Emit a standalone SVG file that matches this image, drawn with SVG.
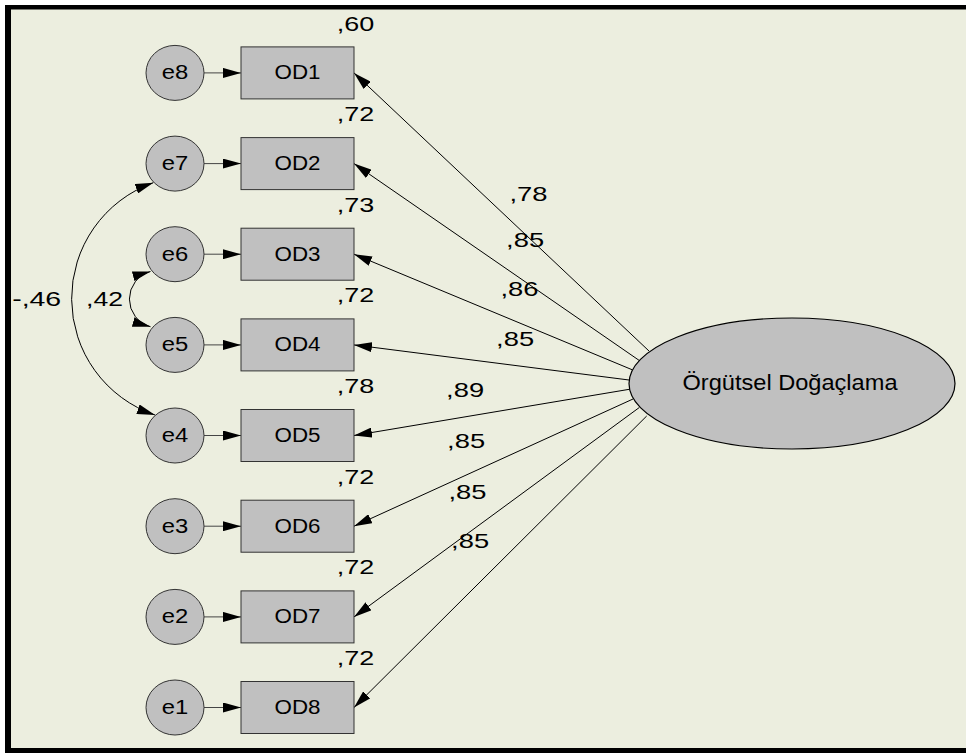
<svg xmlns="http://www.w3.org/2000/svg" width="966" height="754" viewBox="0 0 966 754">
<style>
text{font-family:"Liberation Sans",Arial,sans-serif;fill:#000}
.lbl{font-size:19.5px;text-anchor:middle}
.num{font-size:21px}
.obs{fill:#C0C0C0;stroke:#333;stroke-width:1}
.err{fill:#C0C0C0;stroke:#333;stroke-width:1}
.c{stroke:#000;stroke-width:1;fill:none}
.s{stroke:#444;stroke-width:1;fill:none}
</style>
<defs>
<marker id="ah" viewBox="0 0 18 10" refX="18" refY="5" markerWidth="18" markerHeight="10" markerUnits="userSpaceOnUse" orient="auto-start-reverse"><path d="M0,0 L18,5 L0,10 z" fill="#000"/></marker>
</defs>
<rect x="0" y="0" width="966" height="754" fill="#fff"/>
<rect x="8" y="7" width="958" height="744" fill="#ECEEDF"/>
<rect x="5" y="5" width="6" height="748" fill="#000"/>
<rect x="5" y="5" width="961" height="4.5" fill="#000"/>
<rect x="5" y="748" width="961" height="5" fill="#000"/>

<g id="connectors">
<line class="s" x1="204" y1="72.9" x2="241" y2="72.9" marker-end="url(#ah)"/>
<line class="s" x1="204" y1="163.6" x2="241" y2="163.6" marker-end="url(#ah)"/>
<line class="s" x1="204" y1="254.2" x2="241" y2="254.2" marker-end="url(#ah)"/>
<line class="s" x1="204" y1="344.9" x2="241" y2="344.9" marker-end="url(#ah)"/>
<line class="s" x1="204" y1="435.5" x2="241" y2="435.5" marker-end="url(#ah)"/>
<line class="s" x1="204" y1="526.2" x2="241" y2="526.2" marker-end="url(#ah)"/>
<line class="s" x1="204" y1="616.9" x2="241" y2="616.9" marker-end="url(#ah)"/>
<line class="s" x1="204" y1="707.5" x2="241" y2="707.5" marker-end="url(#ah)"/>
<line class="c" x1="649" y1="351" x2="354" y2="72.9" marker-end="url(#ah)"/>
<line class="c" x1="639.3" y1="360.5" x2="354" y2="163.6" marker-end="url(#ah)"/>
<line class="c" x1="632.3" y1="369.8" x2="354" y2="254.2" marker-end="url(#ah)"/>
<line class="c" x1="629" y1="380" x2="354" y2="344.9" marker-end="url(#ah)"/>
<line class="c" x1="629.3" y1="389.3" x2="354" y2="435.5" marker-end="url(#ah)"/>
<line class="c" x1="633" y1="399" x2="354" y2="526.2" marker-end="url(#ah)"/>
<line class="c" x1="639.3" y1="407.5" x2="354" y2="616.9" marker-end="url(#ah)"/>
<line class="c" x1="646.7" y1="416" x2="354" y2="707.5" marker-end="url(#ah)"/>
<path class="c" d="M153.3,182.7 A123,123 0 0 0 155,415" marker-start="url(#ah)" marker-end="url(#ah)"/>
<path class="c" d="M150.5,271.5 A28.6,28.6 0 0 0 150.5,326.7" marker-start="url(#ah)" marker-end="url(#ah)"/>
</g>

<g id="OD1"><rect class="obs" x="241" y="46.9" width="113" height="52"/><text class="lbl" x="297.5" y="79.3" textLength="46" lengthAdjust="spacingAndGlyphs">OD1</text><text class="num" x="336.8" y="30.5" textLength="37.5" lengthAdjust="spacingAndGlyphs">,60</text></g>
<g id="OD2"><rect class="obs" x="241" y="137.6" width="113" height="52"/><text class="lbl" x="297.5" y="170" textLength="46" lengthAdjust="spacingAndGlyphs">OD2</text><text class="num" x="336.8" y="121.2" textLength="37.5" lengthAdjust="spacingAndGlyphs">,72</text></g>
<g id="OD3"><rect class="obs" x="241" y="228.2" width="113" height="52"/><text class="lbl" x="297.5" y="260.6" textLength="46" lengthAdjust="spacingAndGlyphs">OD3</text><text class="num" x="336.8" y="211.8" textLength="37.5" lengthAdjust="spacingAndGlyphs">,73</text></g>
<g id="OD4"><rect class="obs" x="241" y="318.9" width="113" height="52"/><text class="lbl" x="297.5" y="351.3" textLength="46" lengthAdjust="spacingAndGlyphs">OD4</text><text class="num" x="336.8" y="302.4" textLength="37.5" lengthAdjust="spacingAndGlyphs">,72</text></g>
<g id="OD5"><rect class="obs" x="241" y="409.5" width="113" height="52"/><text class="lbl" x="297.5" y="441.9" textLength="46" lengthAdjust="spacingAndGlyphs">OD5</text><text class="num" x="336.8" y="393" textLength="37.5" lengthAdjust="spacingAndGlyphs">,78</text></g>
<g id="OD6"><rect class="obs" x="241" y="500.2" width="113" height="52"/><text class="lbl" x="297.5" y="532.6" textLength="46" lengthAdjust="spacingAndGlyphs">OD6</text><text class="num" x="336.8" y="483.7" textLength="37.5" lengthAdjust="spacingAndGlyphs">,72</text></g>
<g id="OD7"><rect class="obs" x="241" y="590.9" width="113" height="52"/><text class="lbl" x="297.5" y="623.3" textLength="46" lengthAdjust="spacingAndGlyphs">OD7</text><text class="num" x="336.8" y="574.4" textLength="37.5" lengthAdjust="spacingAndGlyphs">,72</text></g>
<g id="OD8"><rect class="obs" x="241" y="681.5" width="113" height="52"/><text class="lbl" x="297.5" y="713.9" textLength="46" lengthAdjust="spacingAndGlyphs">OD8</text><text class="num" x="336.8" y="665" textLength="37.5" lengthAdjust="spacingAndGlyphs">,72</text></g>

<g id="e8"><ellipse class="err" cx="175" cy="72.9" rx="29" ry="27.5"/><text class="lbl" x="175" y="79.3" textLength="26.5" lengthAdjust="spacingAndGlyphs">e8</text></g>
<g id="e7"><ellipse class="err" cx="175" cy="163.6" rx="29" ry="27.5"/><text class="lbl" x="175" y="170" textLength="26.5" lengthAdjust="spacingAndGlyphs">e7</text></g>
<g id="e6"><ellipse class="err" cx="175" cy="254.2" rx="29" ry="27.5"/><text class="lbl" x="175" y="260.6" textLength="26.5" lengthAdjust="spacingAndGlyphs">e6</text></g>
<g id="e5"><ellipse class="err" cx="175" cy="344.9" rx="29" ry="27.5"/><text class="lbl" x="175" y="351.3" textLength="26.5" lengthAdjust="spacingAndGlyphs">e5</text></g>
<g id="e4"><ellipse class="err" cx="175" cy="435.5" rx="29" ry="27.5"/><text class="lbl" x="175" y="441.9" textLength="26.5" lengthAdjust="spacingAndGlyphs">e4</text></g>
<g id="e3"><ellipse class="err" cx="175" cy="526.2" rx="29" ry="27.5"/><text class="lbl" x="175" y="532.6" textLength="26.5" lengthAdjust="spacingAndGlyphs">e3</text></g>
<g id="e2"><ellipse class="err" cx="175" cy="616.9" rx="29" ry="27.5"/><text class="lbl" x="175" y="623.3" textLength="26.5" lengthAdjust="spacingAndGlyphs">e2</text></g>
<g id="e1"><ellipse class="err" cx="175" cy="707.5" rx="29" ry="27.5"/><text class="lbl" x="175" y="713.9" textLength="26.5" lengthAdjust="spacingAndGlyphs">e1</text></g>

<g id="OrgutselDogaclama"><ellipse cx="792" cy="383.5" rx="163" ry="65.5" fill="#C0C0C0" stroke="#000" stroke-width="1.2"/><text x="790" y="389.5" font-size="21.5" text-anchor="middle" textLength="215" lengthAdjust="spacingAndGlyphs">Örgütsel Doğaçlama</text></g>

<g id="path-labels">
<text class="num" x="509.5" y="200.7" textLength="38" lengthAdjust="spacingAndGlyphs">,78</text>
<text class="num" x="506.1" y="247.3" textLength="38" lengthAdjust="spacingAndGlyphs">,85</text>
<text class="num" x="500.5" y="296" textLength="38" lengthAdjust="spacingAndGlyphs">,86</text>
<text class="num" x="496.1" y="346" textLength="38" lengthAdjust="spacingAndGlyphs">,85</text>
<text class="num" x="446.1" y="396.7" textLength="38" lengthAdjust="spacingAndGlyphs">,89</text>
<text class="num" x="447.1" y="447.7" textLength="38" lengthAdjust="spacingAndGlyphs">,85</text>
<text class="num" x="448.5" y="499.3" textLength="38" lengthAdjust="spacingAndGlyphs">,85</text>
<text class="num" x="451.1" y="548.3" textLength="38" lengthAdjust="spacingAndGlyphs">,85</text>
<text class="num" x="12.2" y="306" textLength="49" lengthAdjust="spacingAndGlyphs">-,46</text>
<text class="num" x="86.1" y="306" textLength="37" lengthAdjust="spacingAndGlyphs">,42</text>
</g>
</svg>
